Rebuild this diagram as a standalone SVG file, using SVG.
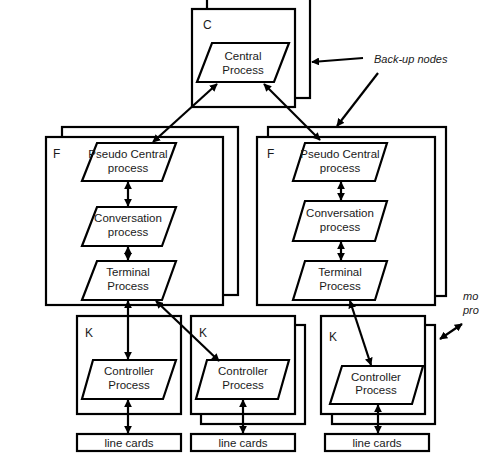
<svg xmlns="http://www.w3.org/2000/svg" width="480" height="459" viewBox="0 0 480 459">
<defs>
<marker id="ah" viewBox="0 0 10 10" refX="9" refY="5" markerWidth="3.6" markerHeight="3.6" orient="auto-start-reverse" markerUnits="strokeWidth">
<path d="M0,0 L10,5 L0,10 z" fill="#000"/>
</marker>
<style>
.box{fill:#fff;stroke:#000;stroke-width:2.2}
.para{fill:#fff;stroke:#000;stroke-width:2.2;stroke-linejoin:miter}
.t{font-family:"Liberation Sans",Arial,sans-serif;font-size:11.5px;fill:#1a1a1a;text-anchor:middle}
.lbl{font-family:"Liberation Sans",Arial,sans-serif;font-size:12px;fill:#1a1a1a}
.it{font-family:"Liberation Sans",Arial,sans-serif;font-size:11px;font-style:italic;fill:#1a1a1a}
.c{fill:none;stroke:#000;stroke-width:2.2;marker-start:url(#ah);marker-end:url(#ah)}
.s{fill:none;stroke:#000;stroke-width:2.2;marker-end:url(#ah)}
</style>
</defs>
<rect width="480" height="459" fill="#fff"/>

<g id="nodeC">
<rect class="box" x="207" y="-5" width="103" height="103"/>
<rect class="box" x="192" y="9" width="103" height="98"/>
<text class="lbl" x="203" y="29">C</text>
</g>
<g id="centralProcess">
<polygon class="para" points="212,43 289,43 274,82 197,82"/>
<text class="t" x="243" y="60">Central</text>
<text class="t" x="243" y="74">Process</text>
</g>

<g id="nodeF1">
<rect class="box" x="62" y="127" width="176" height="168"/>
<rect class="box" x="46" y="137" width="177" height="168"/>
<text class="lbl" x="53" y="158">F</text>
</g>
<g id="pseudoCentral1">
<polygon class="para" points="97,143 176,143 162,181 82,181"/>
<text class="t" x="128" y="158">Pseudo Central</text>
<text class="t" x="128" y="172">process</text>
</g>
<g id="conversation1">
<polygon class="para" points="97,207 176,207 162,246 82,246"/>
<text class="t" x="128" y="222">Conversation</text>
<text class="t" x="128" y="236">process</text>
</g>
<g id="terminal1">
<polygon class="para" points="97,261 176,261 162,300 82,300"/>
<text class="t" x="128" y="276">Terminal</text>
<text class="t" x="128" y="290">Process</text>
</g>

<g id="nodeF2">
<rect class="box" x="268" y="127" width="178" height="169"/>
<rect class="box" x="257" y="137" width="178" height="168"/>
<text class="lbl" x="267" y="158">F</text>
</g>
<g id="pseudoCentral2">
<polygon class="para" points="305,143 387,143 375,181 293,181"/>
<text class="t" x="340" y="158">Pseudo Central</text>
<text class="t" x="340" y="172">process</text>
</g>
<g id="conversation2">
<polygon class="para" points="305,201 387,201 375,241 293,241"/>
<text class="t" x="340" y="217">Conversation</text>
<text class="t" x="340" y="231">process</text>
</g>
<g id="terminal2">
<polygon class="para" points="305,261 387,261 375,300 293,300"/>
<text class="t" x="340" y="276">Terminal</text>
<text class="t" x="340" y="290">Process</text>
</g>

<g id="nodeK1">
<rect class="box" x="77" y="316" width="104" height="98"/>
<text class="lbl" x="85" y="337">K</text>
<polygon class="para" points="93,360 176,360 163,399 82,399"/>
<text class="t" x="129" y="375">Controller</text>
<text class="t" x="129" y="389">Process</text>
</g>
<g id="nodeK2">
<rect class="box" x="201" y="325" width="104" height="99"/>
<rect class="box" x="191" y="316" width="104" height="98"/>
<text class="lbl" x="199" y="337">K</text>
<polygon class="para" points="207,360 289,360 278,399 196,399"/>
<text class="t" x="243" y="375">Controller</text>
<text class="t" x="243" y="389">Process</text>
</g>
<g id="nodeK3">
<rect class="box" x="332" y="325" width="103" height="99"/>
<rect class="box" x="321" y="316" width="104" height="98"/>
<text class="lbl" x="329" y="341">K</text>
<polygon class="para" points="342,366 423,366 412,404 330,404"/>
<text class="t" x="376" y="381">Controller</text>
<text class="t" x="376" y="394">Process</text>
</g>

<g id="lineCards1">
<rect class="box" x="77" y="434" width="104" height="17"/>
<text class="t" x="129" y="446.5">line cards</text>
</g>
<g id="lineCards2">
<rect class="box" x="191" y="434" width="104" height="17"/>
<text class="t" x="243" y="446.5">line cards</text>
</g>
<g id="lineCards3">
<rect class="box" x="325" y="434" width="104" height="17"/>
<text class="t" x="377" y="446.5">line cards</text>
</g>

<g id="backupLabel">
<text class="it" x="374" y="63">Back-up nodes</text>
</g>
<g id="moreLabel">
<text class="it" x="463" y="300">mo</text>
<text class="it" x="463" y="314">pro</text>
</g>

<g id="connectors">
<line class="c" x1="153" y1="142" x2="217" y2="84"/>
<line class="c" x1="264" y1="84" x2="320" y2="140"/>
<line class="c" x1="128" y1="182" x2="128" y2="206"/>
<line class="c" x1="128" y1="247" x2="128" y2="260"/>
<line class="c" x1="341" y1="182" x2="341" y2="200"/>
<line class="c" x1="341" y1="242" x2="341" y2="260"/>
<line class="c" x1="128" y1="301" x2="128" y2="359"/>
<line class="c" x1="156" y1="301" x2="219" y2="361"/>
<line class="c" x1="350" y1="301" x2="371" y2="365"/>
<line class="c" x1="128" y1="400" x2="128" y2="433"/>
<line class="c" x1="243" y1="400" x2="243" y2="433"/>
<line class="c" x1="378" y1="405" x2="378" y2="433"/>
<line class="s" x1="363" y1="58" x2="312" y2="62"/>
<line class="s" x1="378" y1="73" x2="337" y2="126"/>
<line class="c" x1="440" y1="339" x2="462" y2="324"/>
</g>
</svg>
